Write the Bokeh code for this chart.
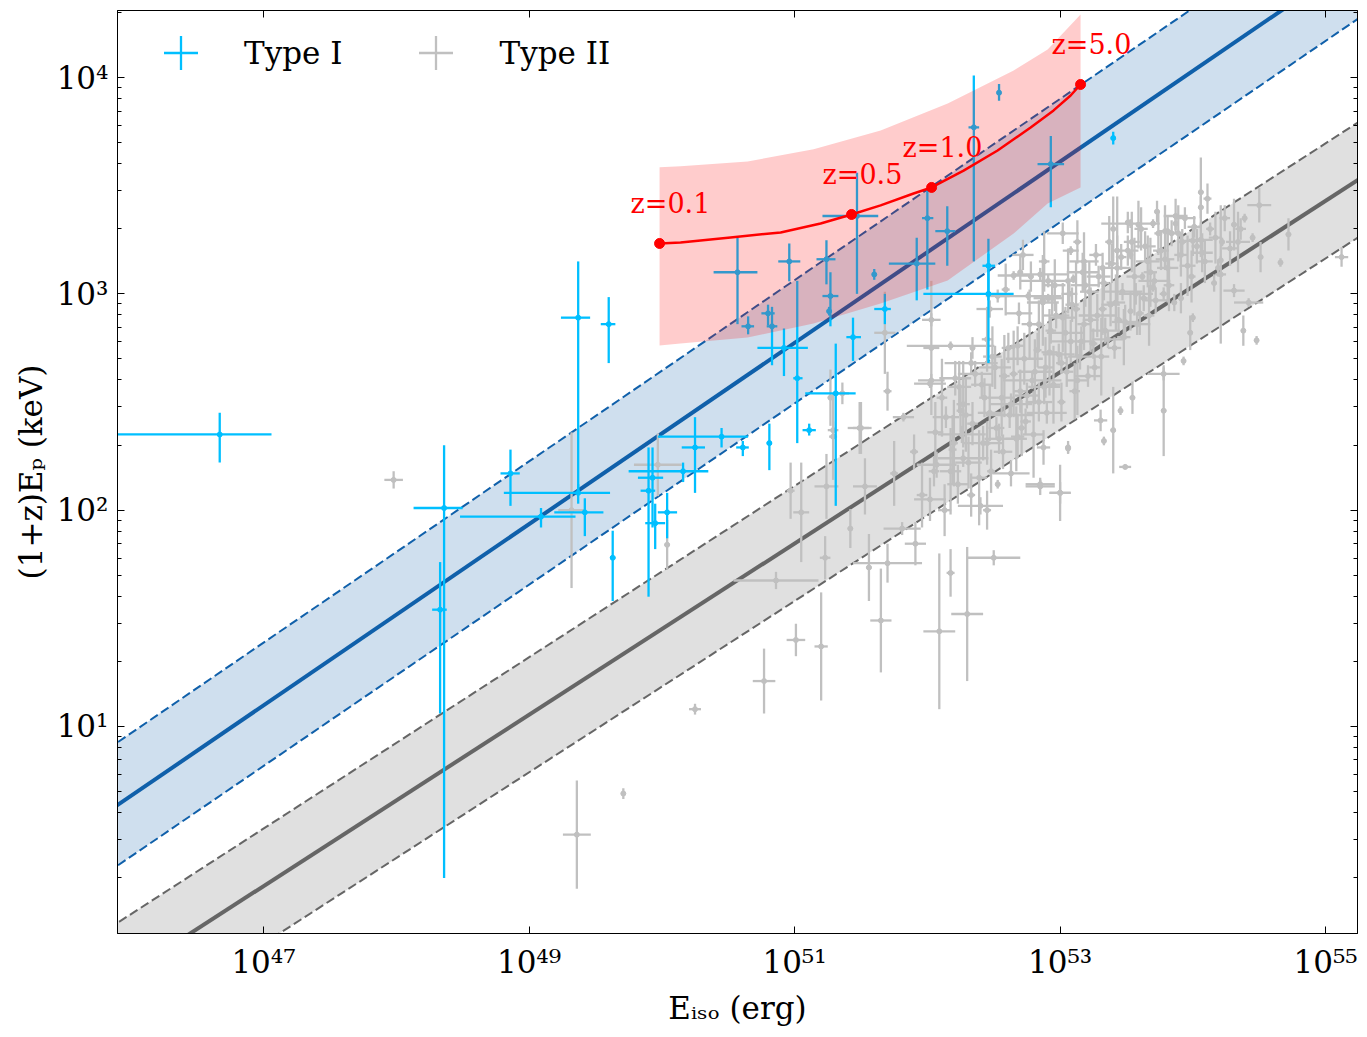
import numpy as np

from bokeh.core.properties import value
from bokeh.embed import file_html
from bokeh.models import (ColumnDataSource, CustomJSTickFormatter, FixedTicker,
                          Legend, LegendItem, LogAxis)
from bokeh.plotting import figure
from bokeh.resources import INLINE


# ---- data (log10 values) ----

# Type I bursts: log10 E_iso [erg], log10 (1+z)Ep [keV], error bar extents in dex
type1_log_e = [46.67, 48.36, 48.33, 48.86, 49.09, 49.37, 49.37, 49.42, 49.60, 49.63,
               50.25, 50.45, 50.61, 50.81, 50.16, 49.93, 49.90, 49.95, 50.04, 50.57,
               50.65, 50.96, 51.24, 50.80, 50.83, 50.92, 51.02, 51.11, 51.31, 51.27,
               51.60, 51.47, 51.92, 51.68, 51.44, 52.46, 52.46, 52.00, 52.15, 52.35,
               52.54, 52.93, 53.40, 51.26]
type1_log_ep = [2.35, 2.01, 1.54, 2.17, 1.97, 2.89, 2.08, 1.99, 2.86, 1.78,
                2.29, 2.34, 2.29, 2.31, 2.18, 2.15, 2.09, 1.94, 1.99, 3.10,
                2.85, 3.15, 3.16, 2.91, 2.85, 2.75, 2.61, 2.37, 2.54, 2.99,
                3.09, 3.36, 3.14, 2.93, 2.80, 3.13, 3.00, 3.35, 3.29, 3.77,
                3.93, 3.60, 3.72, 2.92]
type1_e_lo = [1.50, 0.23, 0.06, 0.075, 0.61, 0.13, 0.56, 0.23, 0.06, 0.02,
              0.10, 0.48, 0.05, 0.02, 0.41, 0.11, 0.06, 0.075, 0.07, 0.18,
              0.05, 0.083, 0.075, 0.05, 0.04, 0.20, 0.03, 0.05, 0.23, 0.06,
              0.015, 0.26, 0.21, 0.08, 0.05, 0.045, 0.49, 0.04, 0.09, 0.04,
              0.015, 0.10, 0.01, 0.015]
type1_e_hi = [0.39, 0.14, 0.05, 0.07, 0.26, 0.09, 0.24, 0.14, 0.05, 0.02,
              0.075, 0.20, 0.045, 0.02, 0.19, 0.08, 0.05, 0.075, 0.075, 0.15,
              0.045, 0.083, 0.068, 0.05, 0.04, 0.18, 0.04, 0.05, 0.15, 0.06,
              0.015, 0.16, 0.14, 0.045, 0.06, 0.05, 0.19, 0.045, 0.06, 0.04,
              0.015, 0.10, 0.01, 0.015]
type1_ep_lo = [0.13, 1.71, 0.48, 0.15, 0.05, 0.80, 0.05, 0.11, 0.18, 0.20,
               0.21, 0.05, 0.04, 0.125, 0.05, 0.23, 0.49, 0.12, 0.12, 0.24,
               0.037, 0.092, 0.116, 0.055, 0.18, 0.13, 0.30, 0.025, 0.52, 0.14,
               0.025, 0.36, 0.17, 0.07, 0.11, 0.16, 0.32, 0.33, 0.16, 0.62,
               0.037, 0.20, 0.03, 0.02]
type1_ep_hi = [0.10, 0.29, 0.22, 0.11, 0.04, 0.26, 0.04, 0.065, 0.125, 0.125,
               0.14, 0.04, 0.03, 0.09, 0.04, 0.14, 0.20, 0.09, 0.09, 0.16,
               0.046, 0.083, 0.088, 0.04, 0.09, 0.09, 0.45, 0.03, 0.23, 0.11,
               0.025, 0.20, 0.12, 0.07, 0.09, 0.125, 0.185, 0.13, 0.115, 0.24,
               0.04, 0.13, 0.03, 0.02]

# Type II bursts (scattered ones), half widths of the error bars in dex
type2_log_e = [47.98, 49.32, 49.97, 50.04, 49.36, 49.71, 50.25, 50.77, 51.01, 51.20,
               50.86, 51.65, 52.09, 52.30, 52.50, 52.175, 51.23, 51.05, 50.97, 51.24,
               51.53, 51.49, 51.29, 51.42, 51.56, 51.75, 51.81, 51.70, 51.90, 51.96,
               51.91, 52.05, 52.175, 52.20, 52.27, 52.33, 52.40, 52.45, 52.63, 52.85,
               53.00, 52.53, 52.25, 52.45, 52.68, 52.875, 53.06, 53.305, 53.33, 53.49,
               53.40, 53.545, 53.455, 53.78, 53.78, 53.93, 54.00, 53.98, 53.91, 54.21,
               54.31, 54.38, 54.48, 54.42, 54.22, 54.21, 54.06, 54.06, 54.50, 55.12,
               54.72, 54.66, 54.51, 54.45, 54.39, 54.31, 54.34, 54.00, 53.79, 53.87,
               53.43, 53.51, 53.53, 53.70, 53.18, 53.32, 53.10, 52.91, 52.87, 53.53,
               53.62, 53.70, 53.00, 52.85, 53.06,
               51.68, 52.03, 52.175, 52.34, 52.02, 51.70, 51.82, 51.50, 51.27, 51.36,
               51.29, 52.53, 52.65, 52.78, 52.76, 53.08, 52.03, 52.03, 52.85, 52.70,
               52.94, 53.06, 52.91, 53.40, 53.59, 53.81, 53.89]
type2_log_ep = [2.14, 2.00, 2.21, 1.84, 0.50, 0.69, 1.08, 1.21, 1.40, 1.37,
                1.675, 1.49, 1.44, 1.52, 1.78, 1.71, 1.78, 1.99, 2.09, 2.11,
                2.11, 2.38, 2.34, 1.915, 1.735, 2.17, 1.915, 1.755, 2.27, 2.07,
                1.845, 2.18, 2.18, 2.31, 2.24, 2.07, 2.02, 2.00, 2.17, 2.11,
                2.08, 2.12, 2.46, 2.31, 2.34, 2.29, 2.29, 2.415, 2.32, 2.20,
                2.37, 2.52, 2.46, 2.46, 2.63, 2.69, 2.89, 2.82, 2.98, 3.09,
                3.015, 2.83, 2.785, 2.96, 3.24, 3.155, 3.25, 3.47, 3.41, 3.17,
                3.275, 3.145, 3.17, 3.26, 3.35, 3.32, 3.24, 3.245, 3.29, 3.325,
                3.20, 3.33, 3.325, 3.325, 3.15, 3.12, 3.07, 3.06, 2.97, 3.18,
                3.08, 3.03, 2.08, 2.12, 2.285,
                2.82, 2.75, 2.76, 2.75, 2.585, 2.55, 2.43, 2.38, 2.52, 2.54,
                2.37, 2.99, 3.085, 3.08, 2.99, 3.20, 2.88, 2.60, 3.09, 3.10,
                2.98, 3.06, 2.98, 3.30, 3.32, 3.29, 3.28]
type2_e_err = [0.07, 0.10, 0.18, 0.02, 0.105, 0.01, 0.045, 0.085, 0.07, 0.05,
               0.32, 0.08, 0.12, 0.12, 0.20, 0.03, 0.04, 0.06, 0.03, 0.09,
               0.09, 0.09, 0.03, 0.02, 0.02, 0.03, 0.14, 0.26, 0.03, 0.04,
               0.08, 0.04, 0.08, 0.03, 0.19, 0.03, 0.17, 0.03, 0.14, 0.11,
               0.08, 0.01, 0.03, 0.03, 0.05, 0.05, 0.02, 0.05, 0.01, 0.045,
               0.02, 0.02, 0.01, 0.02, 0.12, 0.01, 0.01, 0.02, 0.02, 0.04,
               0.08, 0.01, 0.01, 0.11, 0.01, 0.01, 0.09, 0.02, 0.09, 0.05,
               0.02, 0.01, 0.02, 0.01, 0.01, 0.02, 0.09, 0.09, 0.05, 0.02,
               0.03, 0.02, 0.22, 0.01, 0.11, 0.02, 0.01, 0.21, 0.02, 0.01,
               0.01, 0.01, 0.08, 0.11, 0.01,
               0.08, 0.06, 0.33, 0.02, 0.12, 0.03, 0.08, 0.06, 0.02, 0.05,
               0.04, 0.09, 0.12, 0.02, 0.25, 0.06, 0.07, 0.10, 0.21, 0.02,
               0.02, 0.02, 0.11, 0.02, 0.02, 0.02, 0.02]
type2_ep_err = [0.04, 0.36, 0.145, 0.115, 0.25, 0.025, 0.025, 0.15, 0.075, 0.25,
                0.04, 0.24, 0.36, 0.31, 0.035, 0.11, 0.10, 0.23, 0.13, 0.15,
                0.13, 0.12, 0.20, 0.09, 0.155, 0.15, 0.03, 0.09, 0.08, 0.15,
                0.10, 0.07, 0.20, 0.20, 0.04, 0.10, 0.04, 0.09, 0.06, 0.04,
                0.13, 0.02, 0.10, 0.10, 0.10, 0.08, 0.03, 0.05, 0.02, 0.01,
                0.20, 0.075, 0.02, 0.21, 0.03, 0.02, 0.02, 0.08, 0.07, 0.32,
                0.03, 0.07, 0.02, 0.02, 0.02, 0.02, 0.08, 0.16, 0.08, 0.045,
                0.075, 0.02, 0.07, 0.02, 0.02, 0.12, 0.14, 0.07, 0.12, 0.03,
                0.25, 0.05, 0.02, 0.02, 0.135, 0.07, 0.02, 0.03, 0.21, 0.02,
                0.02, 0.02, 0.05, 0.02, 0.02,
                0.19, 0.31, 0.02, 0.05, 0.02, 0.09, 0.02, 0.12, 0.13, 0.05,
                0.04, 0.03, 0.02, 0.07, 0.02, 0.02, 0.03, 0.03, 0.03, 0.08,
                0.08, 0.15, 0.02, 0.15, 0.11, 0.07, 0.13]

# Type II bursts in the dense cloud
type2_cloud_log_e = [52.02, 52.06, 52.07, 52.11, 52.13, 52.14, 52.19, 52.21, 52.23, 52.26,
                     52.27, 52.31, 52.33, 52.34, 52.39, 52.41, 52.42, 52.45, 52.47, 52.48,
                     52.51, 52.52, 52.56, 52.57, 52.61, 52.62, 52.65, 52.67, 52.69, 52.70,
                     52.73, 52.74, 52.77, 52.79, 52.80, 52.83, 52.84, 52.87, 52.89, 52.90,
                     52.93, 52.95, 52.96, 52.99, 53.01, 53.02, 53.05, 53.07, 53.08, 53.11,
                     53.12, 53.15, 53.17, 53.18, 53.21, 53.22, 53.25, 53.27, 53.28, 53.31,
                     53.33, 53.34, 53.37, 53.38, 53.41, 53.43, 53.44, 53.47, 53.48, 53.51,
                     53.53, 53.56, 53.58, 53.61, 53.63, 53.66, 53.67, 53.71, 53.73, 53.76,
                     53.78, 53.81, 53.84, 53.86, 53.91, 53.94, 53.99, 54.03, 54.06, 54.09,
                     54.13, 54.16, 54.24,
                     52.24, 52.29, 52.36, 52.43, 52.49, 52.54, 52.58, 52.63, 52.68, 52.71,
                     52.75, 52.81, 52.84, 52.88, 52.92, 52.97, 53.01, 53.04, 53.09, 53.13,
                     53.16, 53.19, 53.23, 53.26, 53.29, 53.32, 53.36, 53.39, 53.42, 53.46,
                     53.49, 53.54, 53.57, 53.60, 53.64, 53.68, 53.72, 53.74, 53.79, 53.82,
                     53.87, 53.92, 53.96, 54.01, 54.07, 54.11, 54.17, 54.19, 54.28, 54.36,
                     52.47, 52.59, 52.72, 52.88, 53.02, 53.13]
type2_cloud_log_ep = [2.05, 2.36, 2.21, 2.52, 2.00, 2.43, 2.28, 2.61, 2.12, 2.35,
                      2.49, 2.22, 2.68, 2.40, 2.15, 2.58, 2.31, 2.79, 2.45, 2.18,
                      2.66, 2.38, 2.52, 2.27, 2.75, 2.44, 2.63, 2.33, 2.91, 2.55,
                      2.70, 2.41, 2.86, 2.60, 2.35, 2.74, 2.50, 2.96, 2.66, 2.45,
                      2.83, 2.58, 3.04, 2.72, 2.50, 2.89, 2.64, 3.00, 2.78, 2.55,
                      2.93, 2.71, 3.10, 2.86, 2.62, 3.01, 2.77, 3.18, 2.90, 2.71,
                      3.05, 2.83, 3.24, 2.95, 2.75, 3.12, 2.88, 3.01, 2.80, 3.20,
                      2.92, 3.08, 2.86, 3.30, 2.98, 3.15, 2.90, 3.06, 3.38, 3.20,
                      3.00, 3.12, 3.28, 2.96, 3.18, 3.35, 3.08, 3.22, 3.40, 3.15,
                      3.30, 3.05, 3.35,
                      2.57, 2.44, 2.63, 2.52, 2.71, 2.33, 2.62, 2.49, 2.76, 2.38,
                      2.53, 2.64, 2.86, 2.57, 2.73, 2.90, 2.68, 2.82, 2.95, 2.60,
                      2.78, 3.04, 2.88, 2.66, 3.08, 2.93, 2.79, 3.14, 2.96, 3.17,
                      2.87, 3.24, 3.00, 2.91, 3.22, 3.10, 2.97, 3.28, 3.16, 3.04,
                      3.36, 3.24, 3.13, 3.31, 3.19, 3.44, 3.26, 3.12, 3.21, 3.30,
                      2.93, 3.02, 3.18, 3.15, 3.28, 3.24]
type2_cloud_e_err = [0.12, 0.06, 0.15, 0.04, 0.05, 0.10, 0.03, 0.12, 0.08, 0.18,
                     0.05, 0.10, 0.20, 0.04, 0.06, 0.08, 0.15, 0.04, 0.09, 0.03,
                     0.12, 0.06, 0.10, 0.07, 0.05, 0.18, 0.03, 0.08, 0.10, 0.05,
                     0.14, 0.04, 0.06, 0.22, 0.08, 0.03, 0.10, 0.12, 0.06, 0.15,
                     0.04, 0.05, 0.08, 0.12, 0.03, 0.10, 0.05, 0.06, 0.16, 0.04,
                     0.03, 0.09, 0.12, 0.05, 0.10, 0.07, 0.03, 0.05, 0.14, 0.06,
                     0.04, 0.11, 0.03, 0.07, 0.05, 0.10, 0.03, 0.15, 0.05, 0.08,
                     0.02, 0.06, 0.10, 0.05, 0.03, 0.09, 0.04, 0.12, 0.02, 0.06,
                     0.03, 0.08, 0.04, 0.02, 0.05, 0.08, 0.03, 0.04, 0.02, 0.06,
                     0.03, 0.02, 0.04,
                     0.09, 0.05, 0.13, 0.04, 0.07, 0.11, 0.04, 0.16, 0.05, 0.03,
                     0.09, 0.13, 0.04, 0.12, 0.06, 0.10, 0.04, 0.14, 0.05, 0.08,
                     0.03, 0.11, 0.06, 0.04, 0.09, 0.03, 0.12, 0.05, 0.07, 0.04,
                     0.10, 0.06, 0.13, 0.03, 0.08, 0.05, 0.10, 0.03, 0.07, 0.04,
                     0.09, 0.03, 0.06, 0.05, 0.08, 0.03, 0.05, 0.02, 0.06, 0.04,
                     0.10, 0.03, 0.08, 0.04, 0.12, 0.03]
type2_cloud_ep_err = [0.10, 0.14, 0.06, 0.18, 0.12, 0.05, 0.16, 0.08, 0.09, 0.04,
                      0.20, 0.12, 0.05, 0.10, 0.22, 0.06, 0.08, 0.15, 0.13, 0.10,
                      0.10, 0.05, 0.18, 0.08, 0.07, 0.06, 0.20, 0.15, 0.05, 0.10,
                      0.12, 0.06, 0.16, 0.04, 0.20, 0.08, 0.09, 0.10, 0.14, 0.05,
                      0.06, 0.18, 0.12, 0.05, 0.09, 0.16, 0.07, 0.05, 0.10, 0.13,
                      0.22, 0.06, 0.09, 0.12, 0.05, 0.14, 0.07, 0.05, 0.10, 0.18,
                      0.08, 0.06, 0.12, 0.10, 0.05, 0.15, 0.06, 0.04, 0.13, 0.07,
                      0.09, 0.18, 0.05, 0.10, 0.06, 0.12, 0.14, 0.04, 0.05, 0.09,
                      0.03, 0.16, 0.06, 0.04, 0.10, 0.05, 0.12, 0.08, 0.05, 0.10,
                      0.03, 0.04, 0.06,
                      0.12, 0.17, 0.06, 0.09, 0.14, 0.07, 0.19, 0.05, 0.09, 0.13,
                      0.06, 0.15, 0.11, 0.08, 0.20, 0.06, 0.05, 0.12, 0.08, 0.16,
                      0.07, 0.10, 0.15, 0.06, 0.05, 0.12, 0.04, 0.09, 0.13, 0.06,
                      0.08, 0.14, 0.05, 0.10, 0.07, 0.16, 0.06, 0.10, 0.05, 0.12,
                      0.08, 0.06, 0.14, 0.05, 0.09, 0.07, 0.12, 0.04, 0.08, 0.05,
                      0.04, 0.12, 0.07, 0.14, 0.05, 0.10]

# best-fit relations (end points) and their 1-sigma offsets in dex
fit_log_e = [45.5, 55.5]
type1_fit_log_ep = [0.469, 4.659]
type2_fit_log_ep = [-0.332, 3.628]
type1_sigma_lo, type1_sigma_hi = 0.28, 0.29
type2_sigma_lo, type2_sigma_hi = 0.266, 0.266

# track of one burst moved to higher redshift, with its uncertainty band
track_log_e = [49.983, 50.141, 50.518, 50.895, 51.196, 51.429, 51.648, 51.896,
               52.032, 52.273, 52.529, 52.778, 52.951, 53.079, 53.154]
track_log_ep = [3.233, 3.238, 3.261, 3.284, 3.325, 3.367, 3.409, 3.464,
                3.492, 3.570, 3.663, 3.769, 3.848, 3.917, 3.968]
band_log_e = [49.983, 50.141, 50.646, 51.143, 51.648, 52.153, 52.650, 52.906, 53.154]
band_log_ep_hi = [3.585, 3.590, 3.612, 3.668, 3.755, 3.880, 4.033, 4.130, 4.292]
band_log_ep_lo = [2.761, 2.771, 2.798, 2.863, 2.956, 3.062, 3.279, 3.418, 3.492]
z_labels = ["z=0.1", "z=0.5", "z=1.0", "z=5.0"]
z_log_e = [49.983, 51.429, 52.032, 53.154]
z_log_ep = [3.233, 3.367, 3.492, 3.968]

# axis limits (log10)
x_lim = (45.90, 55.24)
y_lim = (0.043, 4.31)

TYPE1_COLOR = "#00BFFF"
TYPE2_COLOR = "#C0C0C0"
FIT1_COLOR = "#1060AA"
FIT2_COLOR = "#666666"
FONT = "DejaVu Serif"


def exp10(a):
    return 10.0 ** np.asarray(a, dtype=float)


def error_sources(log_x, log_y, x_lo, x_hi, y_lo, y_hi):
    """horizontal and vertical bar sources for log-space error extents"""
    lx, ly = np.asarray(log_x), np.asarray(log_y)
    h = ColumnDataSource(dict(x0=exp10(lx - np.asarray(x_lo)), x1=exp10(lx + np.asarray(x_hi)),
                              y=exp10(ly)))
    v = ColumnDataSource(dict(x=exp10(lx), y0=exp10(ly - np.asarray(y_lo)),
                              y1=exp10(ly + np.asarray(y_hi))))
    c = ColumnDataSource(dict(x=exp10(lx), y=exp10(ly)))
    return h, v, c


p = figure(
    width=1361, height=1033,
    x_axis_type="log", y_axis_type="log",
    x_range=(10 ** x_lim[0], 10 ** x_lim[1]),
    y_range=(10 ** y_lim[0], 10 ** y_lim[1]),
    output_backend="svg", toolbar_location=None,
    min_border_left=117, min_border_right=4, min_border_top=10, min_border_bottom=100,
    background_fill_color="white", border_fill_color="white",
)
p.grid.visible = False
p.outline_line_color = "black"
p.outline_line_width = 1

# fit bands and lines
fe = exp10(fit_log_e)
t1 = np.asarray(type1_fit_log_ep)
t2 = np.asarray(type2_fit_log_ep)
p.varea(x=fe, y1=exp10(t1 - type1_sigma_lo), y2=exp10(t1 + type1_sigma_hi),
        fill_color=FIT1_COLOR, fill_alpha=0.2)
p.varea(x=fe, y1=exp10(t2 - type2_sigma_lo), y2=exp10(t2 + type2_sigma_hi),
        fill_color=FIT2_COLOR, fill_alpha=0.2)
for fit, lo, hi, col in [(t1, type1_sigma_lo, type1_sigma_hi, FIT1_COLOR),
                         (t2, type2_sigma_lo, type2_sigma_hi, FIT2_COLOR)]:
    p.line(fe, exp10(fit), line_color=col, line_width=4)
    p.line(fe, exp10(fit + hi), line_color=col, line_width=2, line_dash="9 4")
    p.line(fe, exp10(fit - lo), line_color=col, line_width=2, line_dash="9 4")

# Type II points
t2_e = type2_log_e + type2_cloud_log_e
t2_ep = type2_log_ep + type2_cloud_log_ep
t2_de = type2_e_err + type2_cloud_e_err
t2_dep = type2_ep_err + type2_cloud_ep_err
h2, v2, c2 = error_sources(t2_e, t2_ep, t2_de, t2_de, t2_dep, t2_dep)
p.segment(x0="x0", y0="y", x1="x1", y1="y", source=h2, line_color=TYPE2_COLOR, line_width=2.3)
p.segment(x0="x", y0="y0", x1="x", y1="y1", source=v2, line_color=TYPE2_COLOR, line_width=2.3)
p.scatter("x", "y", source=c2, size=5, color=TYPE2_COLOR)

# Type I points
h1, v1, c1 = error_sources(type1_log_e, type1_log_ep, type1_e_lo, type1_e_hi,
                           type1_ep_lo, type1_ep_hi)
p.segment(x0="x0", y0="y", x1="x1", y1="y", source=h1, line_color=TYPE1_COLOR, line_width=2.3)
p.segment(x0="x", y0="y0", x1="x", y1="y1", source=v1, line_color=TYPE1_COLOR, line_width=2.3)
p.scatter("x", "y", source=c1, size=5, color=TYPE1_COLOR)

# redshift track
p.varea(x=exp10(band_log_e), y1=exp10(band_log_ep_lo), y2=exp10(band_log_ep_hi),
        fill_color="red", fill_alpha=0.2)
p.line(exp10(track_log_e), exp10(track_log_ep), line_color="red", line_width=2.5)
p.scatter(exp10(z_log_e), exp10(z_log_ep), size=10, color="red")
p.text(x=exp10(z_log_e), y=exp10(z_log_ep), text=z_labels, x_offset=-29, y_offset=-40,
       text_font=value(FONT), text_font_size="27px", text_color="red",
       text_align="left", text_baseline="alphabetic")

# axes
sup_formatter = CustomJSTickFormatter(code="""
const sup = {"0": "\u2070", "1": "\u00b9", "2": "\u00b2", "3": "\u00b3", "4": "\u2074",
             "5": "\u2075", "6": "\u2076", "7": "\u2077", "8": "\u2078", "9": "\u2079",
             "-": "\u207b"};
const e = Math.round(Math.log10(tick));
return "10" + String(e).split("").map(c => sup[c]).join("");
""")
blank_formatter = CustomJSTickFormatter(code="return ' ';")
x_ticker = FixedTicker(ticks=[10.0 ** k for k in range(47, 56, 2)], minor_ticks=[])
y_ticker = FixedTicker(ticks=[10.0 ** k for k in range(1, 5)],
                       minor_ticks=[m * 10.0 ** k for k in range(0, 5) for m in range(2, 10)])

xaxis = p.xaxis[0]
yaxis = p.yaxis[0]
xaxis.ticker = x_ticker
yaxis.ticker = y_ticker
xaxis.axis_label = "E\u1d62\u209b\u2092 (erg)"
yaxis.axis_label = "(1+z)E\u209a (keV)"
for ax in (xaxis, yaxis):
    ax.formatter = sup_formatter
    ax.major_label_text_font = FONT
    ax.major_label_text_font_size = "31px"
    ax.major_label_text_color = "black"
    ax.axis_label_text_font = FONT
    ax.axis_label_text_font_size = "31px"
    ax.axis_label_text_font_style = "normal"
    ax.axis_label_text_color = "black"
xaxis.major_label_standoff = 10
xaxis.axis_label_standoff = 7
yaxis.major_label_standoff = 9
yaxis.axis_label_standoff = 5

top = LogAxis(ticker=x_ticker, formatter=blank_formatter)
right = LogAxis(ticker=y_ticker, formatter=blank_formatter)
for ax in (top, right):
    ax.major_label_text_font_size = "2px"
    ax.major_label_text_alpha = 0
    ax.major_label_standoff = 0
p.add_layout(top, "above")
p.add_layout(right, "right")

for ax in (xaxis, yaxis, top, right):
    ax.axis_line_color = "black"
    ax.major_tick_line_color = "black"
    ax.minor_tick_line_color = "black"
    ax.major_tick_in = 7
    ax.major_tick_out = 0
    ax.minor_tick_in = 4
    ax.minor_tick_out = 0

# legend (crosses like error bars); the proxy point lies left of the x range
proxy = ColumnDataSource(dict(x=[10.0 ** (x_lim[0] - 2)], y=[100.0]))
leg1 = p.scatter("x", "y", source=proxy, marker="cross", size=34,
                 line_color=TYPE1_COLOR, line_width=2.3)
leg2 = p.scatter("x", "y", source=proxy, marker="cross", size=34,
                 line_color=TYPE2_COLOR, line_width=2.3)
legend = Legend(
    items=[LegendItem(label="Type I", renderers=[leg1]),
           LegendItem(label="Type II", renderers=[leg2])],
    orientation="horizontal", location="top_left",
    glyph_width=127, glyph_height=85, label_standoff=0, spacing=30,
    padding=0, margin=0, border_line_color=None, background_fill_alpha=0,
    label_text_font=FONT, label_text_font_size="31px", label_text_color="black",
)
p.add_layout(legend)

open("out.html", "w").write(file_html(p, INLINE))
